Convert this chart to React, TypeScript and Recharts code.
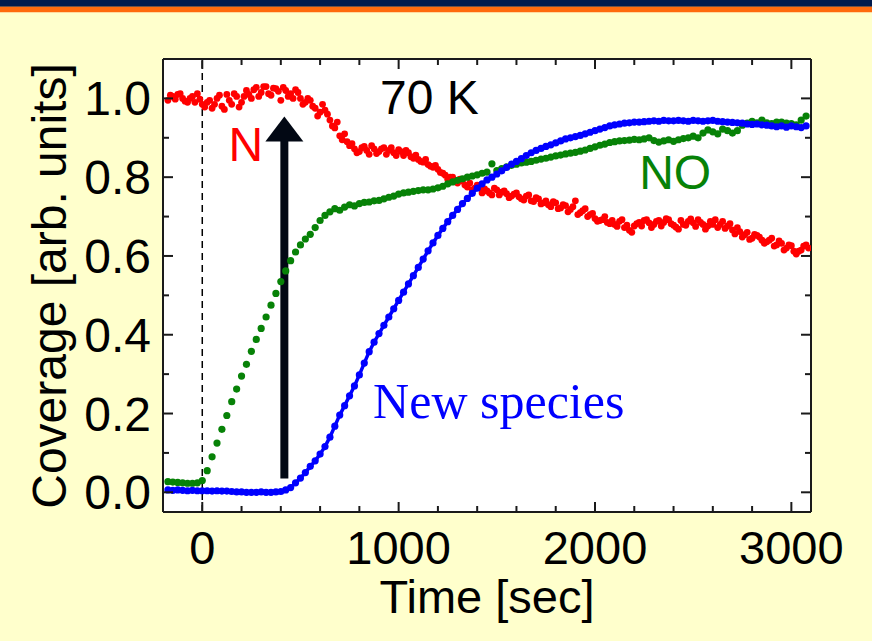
import {
  ScatterChart,
  Scatter,
  XAxis,
  YAxis,
  CartesianGrid,
  ReferenceLine,
  ReferenceDot } from
"recharts";

// time axis, shared by the three traces (sec)
const times = [
  -175, -150, -125, -100, -75, -50, -25, 0,
  25, 50, 75, 100, 125, 150, 175, 200, 225, 250, 275, 300, 325, 350, 375, 400,
  425, 450, 475, 500, 525, 550, 575, 600, 625, 650, 675, 700, 725, 750, 775, 800,
  825, 850, 875, 900, 925, 950, 975, 1000,
  1025, 1050, 1075, 1100, 1125, 1150, 1175, 1200, 1225, 1250, 1275, 1300, 1325, 1350, 1375, 1400,
  1425, 1450, 1475, 1500, 1525, 1550, 1575, 1600, 1625, 1650, 1675, 1700, 1725, 1750, 1775, 1800,
  1825, 1850, 1875, 1900, 1925, 1950, 1975, 2000,
  2025, 2050, 2075, 2100, 2125, 2150, 2175, 2200, 2225, 2250, 2275, 2300, 2325, 2350, 2375, 2400,
  2425, 2450, 2475, 2500, 2525, 2550, 2575, 2600, 2625, 2650, 2675, 2700, 2725, 2750, 2775, 2800,
  2825, 2850, 2875, 2900, 2925, 2950, 2975, 3000,
  3025, 3050, 3075];

// N is scanned twice as often, the second half sits between the main times
const midTimes = times.map((t) => t + 12.5);

const nCoverage = [
  0.995, 1.005, 1.01, 1.0, 0.99, 1.005, 1.012, 0.985,
  0.99, 0.975, 1.0, 0.98, 1.01, 0.985, 1.005, 0.99, 1.02, 1.0, 1.028, 1.015, 1.03, 1.008, 1.025, 0.995,
  1.02, 1.012, 1.022, 1.0, 0.99, 0.995, 0.975, 0.965, 0.97, 0.945, 0.925, 0.905, 0.91, 0.88, 0.872, 0.865,
  0.878, 0.858, 0.872, 0.865, 0.875, 0.868, 0.862, 0.87,
  0.855, 0.862, 0.848, 0.845, 0.838, 0.832, 0.825, 0.82, 0.81, 0.795, 0.8, 0.785, 0.79, 0.775, 0.768, 0.78,
  0.76, 0.765, 0.755, 0.768, 0.762, 0.758, 0.752, 0.76, 0.745, 0.752, 0.74, 0.748, 0.732, 0.74, 0.725, 0.735,
  0.722, 0.728, 0.718, 0.74, 0.71, 0.72, 0.705, 0.695,
  0.69, 0.7, 0.682, 0.68, 0.688, 0.672, 0.665, 0.676, 0.685, 0.69, 0.684, 0.68, 0.69, 0.685, 0.692, 0.678,
  0.668, 0.68, 0.688, 0.684, 0.692, 0.68, 0.676, 0.68, 0.672, 0.688, 0.676, 0.666, 0.672, 0.648, 0.66, 0.645,
  0.652, 0.64, 0.636, 0.645, 0.628, 0.632, 0.62, 0.626,
  0.605, 0.615, 0.628];

const nCoverageMid = [
  1.008, 0.998, 1.012, 0.993, 1.0, 0.99, 0.998, 0.978,
  0.995, 0.985, 1.008, 0.972, 0.995, 1.012, 0.978, 1.005, 1.01, 1.022, 1.005, 1.03, 1.012, 1.026, 1.018, 1.028,
  1.005, 1.0, 1.015, 0.985, 1.0, 0.98, 0.955, 0.985, 0.96, 0.93, 0.94, 0.895, 0.89, 0.885, 0.862, 0.875,
  0.868, 0.88, 0.86, 0.872, 0.858, 0.875, 0.855, 0.865,
  0.868, 0.852, 0.856, 0.84, 0.845, 0.828, 0.83, 0.812, 0.805, 0.8, 0.79, 0.795, 0.78, 0.785, 0.772, 0.775,
  0.77, 0.76, 0.772, 0.755, 0.765, 0.748, 0.757, 0.75, 0.742, 0.755, 0.738, 0.745, 0.735, 0.73, 0.738, 0.72,
  0.73, 0.712, 0.725, 0.705, 0.715, 0.7, 0.708, 0.688,
  0.692, 0.685, 0.69, 0.675, 0.692, 0.678, 0.66, 0.682, 0.676, 0.692, 0.672, 0.688, 0.676, 0.695, 0.682, 0.673,
  0.69, 0.678, 0.694, 0.675, 0.685, 0.668, 0.688, 0.692, 0.68, 0.67, 0.682, 0.656, 0.662, 0.654, 0.642, 0.655,
  0.648, 0.632, 0.64, 0.625, 0.638, 0.615, 0.628, 0.612,
  0.612, 0.625, 0.62];

const noCoverage = [
  0.027, 0.026, 0.025, 0.024, 0.023, 0.023, 0.024, 0.03,
  0.055, 0.09, 0.125, 0.16, 0.195, 0.23, 0.262, 0.295, 0.325, 0.358, 0.388, 0.416, 0.445, 0.475, 0.505, 0.535,
  0.562, 0.588, 0.61, 0.628, 0.643, 0.655, 0.672, 0.69, 0.703, 0.712, 0.72, 0.716, 0.724, 0.73, 0.727, 0.733,
  0.736, 0.737, 0.74, 0.741, 0.745, 0.749, 0.752, 0.757,
  0.76, 0.762, 0.764, 0.766, 0.768, 0.768, 0.77, 0.773, 0.777, 0.783, 0.788, 0.792, 0.796, 0.8, 0.803, 0.806,
  0.81, 0.813, 0.834, 0.817, 0.822, 0.826, 0.83, 0.833, 0.836, 0.838, 0.84, 0.843, 0.846, 0.848, 0.851, 0.854,
  0.856, 0.859, 0.861, 0.863, 0.866, 0.869, 0.873, 0.877,
  0.881, 0.884, 0.888, 0.89, 0.892, 0.893, 0.894, 0.896, 0.895, 0.897, 0.9, 0.893, 0.889, 0.892, 0.895, 0.891,
  0.895, 0.898, 0.9, 0.904, 0.9, 0.912, 0.92, 0.915, 0.91, 0.922, 0.918, 0.912, 0.918, 0.932, 0.937, 0.942,
  0.938, 0.945, 0.938, 0.936, 0.94, 0.94, 0.937, 0.936,
  0.933, 0.945, 0.955];

const newSpecies = [
  0.006, 0.005, 0.006, 0.005, 0.004, 0.005, 0.004, 0.004,
  0.004, 0.003, 0.004, 0.003, 0.003, 0.002, 0.001, 0.001, 0.0, 0.0, 0.0, 0.001, 0.0, 0.0, 0.001, 0.002,
  0.006, 0.012, 0.024, 0.036, 0.05, 0.066, 0.08, 0.097, 0.116, 0.14, 0.168, 0.196, 0.22, 0.245, 0.27, 0.298,
  0.328, 0.357, 0.381, 0.403, 0.424, 0.445, 0.466, 0.487,
  0.508, 0.529, 0.55, 0.571, 0.592, 0.613, 0.633, 0.652, 0.67, 0.687, 0.703, 0.718, 0.733, 0.746, 0.759, 0.772,
  0.783, 0.793, 0.8, 0.808, 0.816, 0.825, 0.833, 0.84, 0.847, 0.855, 0.862, 0.868, 0.873, 0.878, 0.882, 0.887,
  0.892, 0.897, 0.9, 0.903, 0.906, 0.91, 0.914, 0.918,
  0.922, 0.926, 0.93, 0.933, 0.935, 0.937, 0.938, 0.94, 0.94, 0.941, 0.942, 0.943, 0.942, 0.944, 0.943, 0.943,
  0.944, 0.943, 0.942, 0.944, 0.943, 0.942, 0.943, 0.944, 0.942, 0.941, 0.94, 0.939, 0.938, 0.937, 0.935, 0.934,
  0.935, 0.933, 0.932, 0.93, 0.928, 0.93, 0.927, 0.93,
  0.928, 0.926, 0.93];

const xTicks = [0, 200, 400, 600, 800, 1000, 1200, 1400, 1600, 1800, 2000, 2200, 2400, 2600, 2800, 3000];
const xLabels = [0, 1000, 2000, 3000];
const yTicks = [0, 0.1, 0.2, 0.3, 0.4, 0.5, 0.6, 0.7, 0.8, 0.9, 1.0];
const yLabels = [0, 0.2, 0.4, 0.6, 0.8, 1.0];

const W = 872;
const H = 641;
const PL = 163;
const PR = 811;
const PT = 59;
const PB = 512;
const SANS = "'Liberation Sans', Arial, sans-serif";
const FRAME = "#1a1a1a";
const RED = "#FF0000";
const GREEN = "#078207";
const BLUE = "#0000FF";

const nData = times.map((t, i) => ({ t, v: nCoverage[i] })).concat(
  midTimes.map((t, i) => ({ t, v: nCoverageMid[i] }))
);
const noData = times.map((t, i) => ({ t, v: noCoverage[i] }));
const newData = times.map((t, i) => ({ t, v: newSpecies[i] }));

const dot = (color: string, r = 3.4) => (p: any) =>
<circle cx={p.cx} cy={p.cy} r={r} fill={color} />;

function XTick(props: any) {
  const { x, payload } = props;
  const major = xLabels.includes(payload.value);
  const len = major ? 10 : 6;
  return (
    <g>
      <line x1={x} x2={x} y1={PB} y2={PB - len} stroke={FRAME} strokeWidth={2} />
      <line x1={x} x2={x} y1={PT} y2={PT + len} stroke={FRAME} strokeWidth={2} />
      {major &&
      <text x={x} y={PB + 52} textAnchor="middle" fontSize={47} fontFamily={SANS} fill="#000">
          {payload.value}
        </text>
      }
    </g>);
}

function YTick(props: any) {
  const { y, payload } = props;
  const major = yLabels.some((v) => Math.abs(v - payload.value) < 1e-6);
  const len = major ? 10 : 6;
  return (
    <g>
      <line x1={PL} x2={PL + len} y1={y} y2={y} stroke={FRAME} strokeWidth={2} />
      <line x1={PR} x2={PR - len} y1={y} y2={y} stroke={FRAME} strokeWidth={2} />
      {major &&
      <text x={PL - 12} y={y + 17} textAnchor="end" fontSize={48} fontFamily={SANS} fill="#000">
          {payload.value.toFixed(1)}
        </text>
      }
    </g>);
}

const textAt = (label: string, color: string, size: number, family: string) => (p: any) =>
<text x={p.cx} y={p.cy} fontSize={size} fontFamily={family} fill={color}>{label}</text>;

const arrowHead = (p: any) =>
<polygon points={`${p.cx},${p.cy} ${p.cx - 19},${p.cy + 25} ${p.cx + 19},${p.cy + 25}`} fill="#020814" />;

export default function App() {
  return (
    <div style={{ position: "absolute", left: 0, top: 0, width: W, height: H, background: "#FFFFCC", overflow: "hidden" }}>
      <div style={{ position: "absolute", left: 0, top: 0, width: W, height: 6, background: "#001A4D" }} />
      <div style={{ position: "absolute", left: 0, top: 6, width: W, height: 1, background: "#6e5248" }} />
      <div style={{ position: "absolute", left: 0, top: 7, width: W, height: 5, background: "#FF6A0D" }} />
      <div style={{ position: "absolute", left: 0, top: 12, width: W, height: 1, background: "#FFD9A0" }} />
      <ScatterChart
        width={W}
        height={H}
        margin={{ top: PT, right: W - PR, bottom: 49, left: PL - 100 }}
        style={{ position: "absolute", left: 0, top: 0 }}>
        <CartesianGrid fill="#fff" horizontal={false} vertical={false} />
        <XAxis
          type="number"
          dataKey="t"
          domain={[-200, 3100]}
          allowDataOverflow
          ticks={xTicks}
          interval={0}
          height={80}
          tickLine={false}
          axisLine={{ stroke: FRAME, strokeWidth: 2 }}
          tick={<XTick />}
          label={{
            content: () =>
            <text x={(PL + PR) / 2} y={613} textAnchor="middle" fontSize={47} fontFamily={SANS} fill="#000">
                Time [sec]
              </text>
          }} />
        <YAxis
          type="number"
          dataKey="v"
          domain={[-0.05, 1.1]}
          allowDataOverflow
          ticks={yTicks}
          interval={0}
          width={100}
          tickLine={false}
          axisLine={{ stroke: FRAME, strokeWidth: 2 }}
          tick={<YTick />}
          label={{
            content: () =>
            <text
              x={66}
              y={286}
              transform="rotate(-90 66 286)"
              textAnchor="middle"
              fontSize={48}
              fontFamily={SANS}
              fill="#000">
                Coverage [arb. units]
              </text>
          }} />
        <ReferenceLine y={1.1} stroke={FRAME} strokeWidth={2} />
        <ReferenceLine x={3100} stroke={FRAME} strokeWidth={2} />
        <ReferenceLine x={0} stroke="#000" strokeWidth={1.5} strokeDasharray="7 5" />
        <Scatter data={nData} dataKey="v" shape={dot(RED)} isAnimationActive={false} />
        <Scatter data={noData} dataKey="v" shape={dot(GREEN, 3.6)} isAnimationActive={false} />
        <Scatter
          data={newData}
          dataKey="v"
          shape={dot(BLUE, 3.6)}
          line={{ stroke: BLUE, strokeWidth: 3.5 }}
          lineType="joint"
          isAnimationActive={false} />
        <ReferenceLine
          segment={[{ x: 418, y: 0.035 }, { x: 418, y: 0.9 }]}
          stroke="#020814"
          strokeWidth={8} />
        <ReferenceDot x={418} y={0.954} r={0} shape={arrowHead} />
        <ReferenceDot x={905} y={0.961} r={0} shape={textAt("70 K", "#000", 48, SANS)} />
        <ReferenceDot x={133} y={0.84} r={0} shape={textAt("N", RED, 48, SANS)} />
        <ReferenceDot x={2225} y={0.771} r={0} shape={textAt("NO", GREEN, 48, SANS)} />
        <ReferenceDot
          x={870}
          y={0.189}
          r={0}
          shape={textAt("New species", BLUE, 50, "'Liberation Serif', 'Times New Roman', serif")} />
      </ScatterChart>
    </div>);
}
